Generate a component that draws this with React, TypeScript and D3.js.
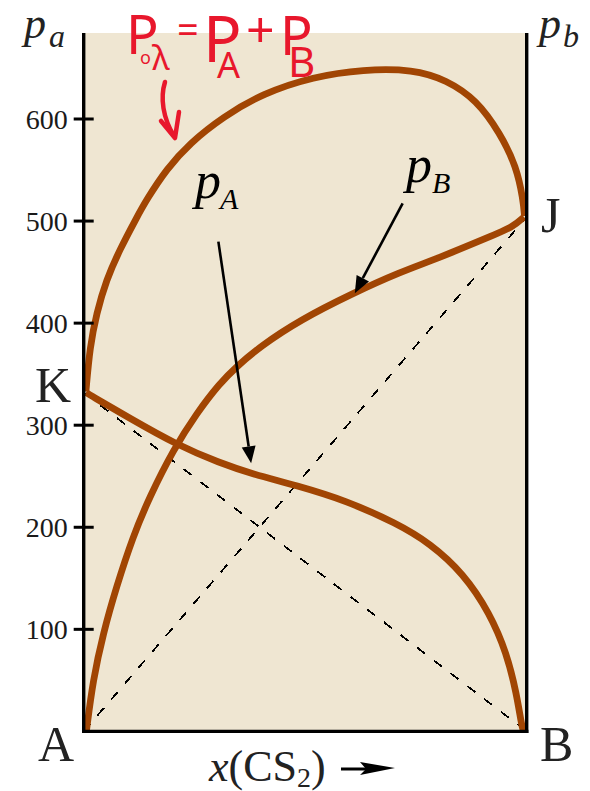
import React from "react";
import * as d3 from "d3";

// Vapour pressure of a binary mixture against mole fraction of CS2
const W = 590;
const H = 791;

const yTickValues = [100, 200, 300, 400, 500, 600];

// partial pressure of component A (falls from K to B)
const pAX = [0.005, 0.014, 0.104, 0.209, 0.307, 0.382, 0.48, 0.593, 0.706, 0.782, 0.857, 0.917, 0.955, 0.977, 0.989, 0.993];
const pAY = [332, 329.6, 306.8, 281, 263, 252, 241, 226, 204, 184.3, 154.9, 115.7, 76.5, 37.3, 4.6, 0];

// partial pressure of component B (rises from A to J)
const pBX = [0.006, 0.021, 0.044, 0.074, 0.111, 0.149, 0.202, 0.255, 0.307, 0.345, 0.398, 0.488, 0.608, 0.714, 0.797, 0.917, 0.97, 0.994];
const pBY = [0, 50.4, 96.1, 141.8, 190.8, 230, 275.7, 311.7, 341, 357.3, 377, 403, 429.3, 450, 463, 484.7, 494.5, 504];

// total vapour pressure
const totX = [0.005, 0.014, 0.029, 0.051, 0.081, 0.119, 0.142, 0.187, 0.239, 0.315, 0.405, 0.518, 0.631, 0.744, 0.819, 0.887, 0.94, 0.977, 0.992, 0.995];
const totY = [333, 376.9, 409.6, 442.3, 471.7, 503, 521, 551, 576.2, 602.3, 625.2, 641.5, 648.7, 648.7, 638.3, 618.7, 586, 553.3, 520.7, 505];

// ideal (Raoult) straight lines: K→B and A→J
const raoultKB: [number, number][] = [[0, 332], [1, 0]];
const raoultAJ: [number, number][] = [[0, 0], [1, 504]];

// label arrows in data units: [start, tip]
const arrowPA: [number, number][] = [[0.304, 479.8], [0.378, 262.7]];
const arrowPB: [number, number][] = [[0.72, 517.4], [0.612, 429.3]];

const BROWN = "#A14503";
const BG = "#EFE6D2";
const RED = "#E8172C";
const SERIF = "'Liberation Serif', 'Times New Roman', serif";
const HAND = "'Noto Sans', 'DejaVu Sans', sans-serif";

function zip(xs: number[], ys: number[]): [number, number][] {
  return xs.map((v, i) => [v, ys[i]]);
}

function arrowHead(sx: number, sy: number, tx: number, ty: number, len: number, wid: number) {
  const dx = tx - sx;
  const dy = ty - sy;
  const d = Math.hypot(dx, dy);
  const ux = dx / d;
  const uy = dy / d;
  const bx = tx - ux * len;
  const by = ty - uy * len;
  const px = (-uy * wid) / 2;
  const py = (ux * wid) / 2;
  return {
    points: `${tx},${ty} ${bx + px},${by + py} ${bx - px},${by - py}`,
    bx,
    by,
  };
}

export default function App() {
  const x = d3.scaleLinear().domain([0, 1]).range([83.7, 526.7]);
  const y = d3.scaleLinear().domain([0, 600]).range([731.4, 119]);
  const yTop = y.invert(33);

  const curve = d3
    .line<[number, number]>()
    .x((d) => x(d[0]))
    .y((d) => y(d[1]))
    .curve(d3.curveBasis);
  const straight = d3
    .line<[number, number]>()
    .x((d) => x(d[0]))
    .y((d) => y(d[1]));

  const series = [zip(totX, totY), zip(pBX, pBY), zip(pAX, pAY)];

  const arrows = [arrowPA, arrowPB].map((a) => {
    const sx = x(a[0][0]);
    const sy = y(a[0][1]);
    const tx = x(a[1][0]);
    const ty = y(a[1][1]);
    const h = arrowHead(sx, sy, tx, ty, 17, 14);
    return { sx, sy, h };
  });

  return (
    <svg
      width={W}
      height={H}
      viewBox={`0 0 ${W} ${H}`}
      style={{ position: "absolute", left: 0, top: 0, display: "block", background: "#fff" }}
    >
      {/* plot area */}
      <rect x={x(0)} y={y(yTop)} width={x(1) - x(0)} height={y(0) - y(yTop)} fill={BG} />

      {/* ideal straight lines */}
      {[raoultKB, raoultAJ].map((l, i) => (
        <path
          key={i}
          d={straight(l) || ""}
          fill="none"
          stroke="#000"
          strokeWidth={1.8}
          strokeDasharray="10 11"
          shapeRendering="crispEdges"
        />
      ))}

      {/* pressure curves */}
      {series.map((s, i) => (
        <path key={i} d={curve(s) || ""} fill="none" stroke={BROWN} strokeWidth={6.8} strokeLinecap="butt" />
      ))}

      {/* axes */}
      <line x1={x(0)} x2={x(0)} y1={y(yTop)} y2={y(0) + 1.5} stroke="#000" strokeWidth={3.4} />
      <line x1={x(1)} x2={x(1)} y1={y(yTop)} y2={y(0) + 1.5} stroke="#000" strokeWidth={3.4} />
      <line x1={x(0) - 1.7} x2={x(1) + 1.7} y1={y(0)} y2={y(0)} stroke="#000" strokeWidth={3.4} />
      {yTickValues.map((t) => (
        <g key={t}>
          <line x1={x(0) - 10} x2={x(0) + 10} y1={y(t)} y2={y(t)} stroke="#000" strokeWidth={3} />
          <text
            x={x(0) - 16}
            y={y(t)}
            dy="0.35em"
            textAnchor="end"
            fontFamily={SERIF}
            fontSize={28}
            fill="#1a1a1a"
          >
            {t}
          </text>
        </g>
      ))}

      {/* axis titles */}
      <text x={24} y={38} fontFamily={SERIF} fontStyle="italic" fontSize={44} fill="#222">
        p
      </text>
      <text x={49} y={47} fontFamily={SERIF} fontStyle="italic" fontSize={32} fill="#222">
        a
      </text>
      <text x={539} y={38} fontFamily={SERIF} fontStyle="italic" fontSize={44} fill="#222">
        p
      </text>
      <text x={563} y={47} fontFamily={SERIF} fontStyle="italic" fontSize={32} fill="#222">
        b
      </text>

      {/* corner labels */}
      <text x={71} y={402} textAnchor="end" fontFamily={SERIF} fontSize={50} fill="#222">
        K
      </text>
      <text x={74} y={761} textAnchor="end" fontFamily={SERIF} fontSize={50} fill="#222">
        A
      </text>
      <text x={540} y={761} fontFamily={SERIF} fontSize={50} fill="#222">
        B
      </text>
      <text x={541} y={232} fontFamily={SERIF} fontSize={50} fill="#222">
        J
      </text>

      {/* x axis title */}
      <text x={209} y={781} fontFamily={SERIF} fontSize={44} fill="#222">
        <tspan fontStyle="italic">x</tspan>
        <tspan>(CS</tspan>
        <tspan fontSize={28} dy={6}>2</tspan>
        <tspan dy={-6}>)</tspan>
      </text>
      <line x1={341} x2={368} y1={769} y2={769} stroke="#000" strokeWidth={3} />
      <polygon points="360,762 395,768 360,775 366,769" fill="#000" />

      {/* curve labels */}
      <text x={195} y={198} fontFamily={SERIF} fontStyle="italic" fontSize={52} fill="#000">
        p
      </text>
      <text x={220} y={209} fontFamily={SERIF} fontStyle="italic" fontSize={30} fill="#000">
        A
      </text>
      <text x={406} y={182} fontFamily={SERIF} fontStyle="italic" fontSize={52} fill="#000">
        p
      </text>
      <text x={432} y={193} fontFamily={SERIF} fontStyle="italic" fontSize={30} fill="#000">
        B
      </text>

      {/* label arrows */}
      {arrows.map((a, i) => (
        <g key={i}>
          <line x1={a.sx} y1={a.sy} x2={a.h.bx} y2={a.h.by} stroke="#000" strokeWidth={2.6} />
          <polygon points={a.h.points} fill="#000" />
        </g>
      ))}

      {/* handwritten note */}
      <g fill={RED} fontFamily={HAND}>
        <text x={126} y={54} fontSize={54}>P</text>
        <text x={140} y={64} fontSize={18}>o</text>
        <text x={152} y={70} fontSize={34}>λ</text>
        <text x={177} y={43} fontSize={38}>=</text>
        <text x={203} y={62} fontSize={64}>P</text>
        <text x={217} y={78} fontSize={36}>A</text>
        <text x={246} y={47} fontSize={50}>+</text>
        <text x={280} y={55} fontSize={54}>P</text>
        <text x={288} y={77} fontSize={42}>B</text>
      </g>
      <path
        d="M165,82 C160,98 163,118 174,136"
        fill="none"
        stroke={RED}
        strokeWidth={4.5}
        strokeLinecap="round"
      />
      <path
        d="M161,121 L175,138 L179,112"
        fill="none"
        stroke={RED}
        strokeWidth={4.5}
        strokeLinecap="round"
        strokeLinejoin="round"
      />
    </svg>
  );
}
